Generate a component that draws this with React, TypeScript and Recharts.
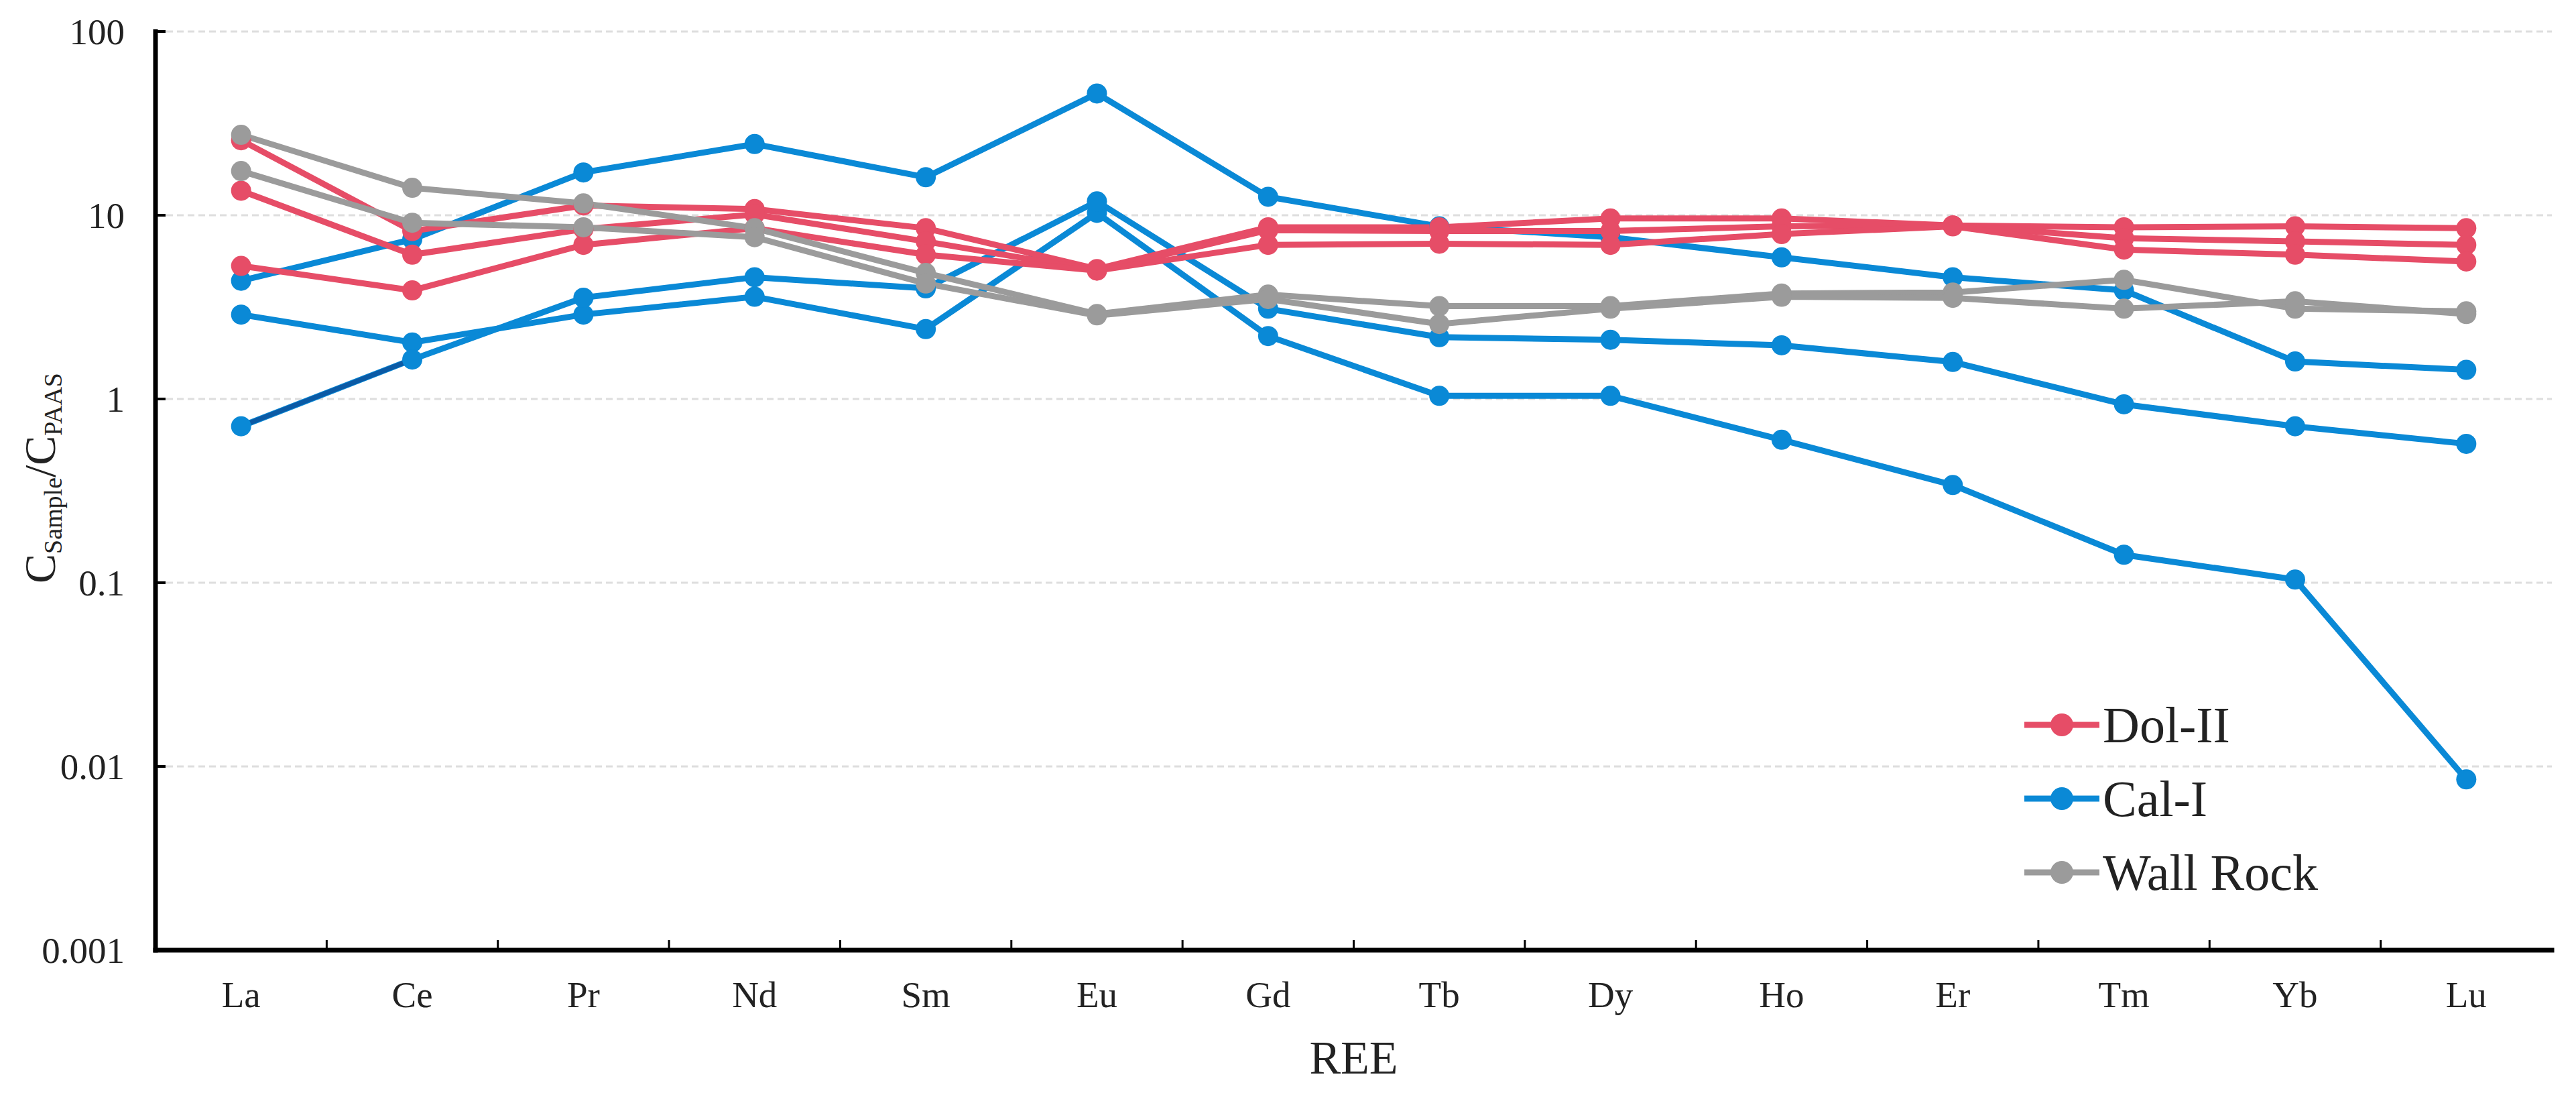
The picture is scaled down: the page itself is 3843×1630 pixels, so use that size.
import React from 'react';
import { LineChart, Line, XAxis, YAxis, CartesianGrid, Legend, Label } from 'recharts';

// REE patterns normalised to PAAS
const elements = ['La', 'Ce', 'Pr', 'Nd', 'Sm', 'Eu', 'Gd', 'Tb', 'Dy', 'Ho', 'Er', 'Tm', 'Yb', 'Lu'];

const dol1 = [25.6, 8.2, 11.3, 10.8, 8.5, 5.1, 8.6, 8.6, 9.6, 9.6, 8.8, 8.6, 8.7, 8.5];
const dol2 = [13.6, 6.1, 8.4, 10.1, 7.2, 5.0, 8.3, 8.2, 8.2, 8.7, 8.8, 7.5, 7.2, 6.9];
const dol3 = [5.3, 3.9, 6.9, 8.5, 6.1, 5.0, 6.9, 7.0, 6.9, 7.9, 8.7, 6.5, 6.1, 5.6];

const cal1 = [4.4, 7.4, 17.1, 24.4, 16.1, 46, 12.6, 8.7, 7.6, 5.9, 4.6, 3.9, 1.6, 1.44];
const cal2 = [2.88, 2.03, 2.88, 3.6, 2.4, 10.3, 2.2, 1.04, 1.04, 0.6, 0.34, 0.142, 0.104, 0.0085];
const cal3 = [0.71, 1.64, 3.56, 4.6, 4.0, 11.9, 3.1, 2.17, 2.1, 1.96, 1.59, 0.935, 0.71, 0.57];

const wall1 = [27.4, 14.1, 11.6, 8.5, 4.85, 2.9, 3.7, 3.2, 3.2, 3.75, 3.8, 4.45, 3.1, 3.0];
const wall2 = [17.4, 9.1, 8.6, 7.6, 4.25, 2.85, 3.5, 2.56, 3.1, 3.6, 3.55, 3.1, 3.4, 2.9];

const yTicks = [0.001, 0.01, 0.1, 1, 10, 100];

const RED = '#e64d67';
const BLUE = '#0a89d6';
const DARK_BLUE = '#0b5aa5';
const GREY = '#9b9b9b';
const FONT = "'Liberation Serif', 'Times New Roman', serif";

const legendItems = [
  { name: 'Dol-II', color: RED },
  { name: 'Cal-I', color: BLUE },
  { name: 'Wall Rock', color: GREY },
];

const data = elements.map((el, i) => ({
  x: i + 0.5,
  el,
  dol1: dol1[i],
  dol2: dol2[i],
  dol3: dol3[i],
  cal1: cal1[i],
  cal2: cal2[i],
  cal3: cal3[i],
  calSeg: i < 2 ? cal3[i] : null,
  wall1: wall1[i],
  wall2: wall2[i],
}));

// ticks at band edges (marks) and band centres (labels)
const xTicks = elements.flatMap((_, i) => [i, i + 0.5]).concat(elements.length);

const XTick = ({ x, y, payload }: any) => {
  const v = payload.value;
  if (Number.isInteger(v)) {
    if (v === 0 || v === elements.length) return null;
    return <line x1={x} y1={y} x2={x} y2={y - 15} stroke="#000" strokeWidth={3} />;
  }
  return (
    <text x={x} y={y + 85} textAnchor="middle" fontSize={55} fontFamily={FONT} fill="#222">
      {elements[Math.floor(v)]}
    </text>
  );
};

const YTick = ({ x, y, payload }: any) => (
  <g>
    <line x1={x} y1={y} x2={x + 15} y2={y} stroke="#000" strokeWidth={4} />
    <text x={x - 46} y={y} dy="0.35em" textAnchor="end" fontSize={55} fontFamily={FONT} fill="#222">
      {String(payload.value)}
    </text>
  </g>
);

const YLabel = () => (
  <text
    x={82}
    y={713}
    transform="rotate(-90, 82, 713)"
    textAnchor="middle"
    fontFamily={FONT}
    fill="#222"
    fontSize={66}
  >
    <tspan>C</tspan>
    <tspan fontSize={38} dy={10}>Sample</tspan>
    <tspan dy={-10}>/C</tspan>
    <tspan fontSize={38} dy={10}>PAAS</tspan>
  </text>
);

const XLabel = (props: any) => {
  const vb = props.viewBox || { x: 232, y: 1417, width: 3575 };
  return (
    <text x={vb.x + vb.width / 2} y={vb.y + 184} textAnchor="middle" fontSize={70} fontFamily={FONT} fill="#222">
      REE
    </text>
  );
};

const LegendBox = () => (
  <div style={{ fontFamily: FONT }}>
    {legendItems.map((item) => (
      <div key={item.name} style={{ display: 'flex', alignItems: 'center', height: 110 }}>
        <svg width={112} height={40} style={{ marginRight: 5 }}>
          <line x1={0} y1={20} x2={112} y2={20} stroke={item.color} strokeWidth={9} />
          <circle cx={56} cy={20} r={17} fill={item.color} />
        </svg>
        <span style={{ fontSize: 76, color: '#222', lineHeight: 1 }}>{item.name}</span>
      </div>
    ))}
  </div>
);

const axisLine = { stroke: '#000', strokeWidth: 7, strokeLinecap: 'square' as const };

const series = (key: string, color: string) => (
  <Line
    key={key}
    dataKey={key}
    stroke={color}
    strokeWidth={9}
    dot={{ r: 15, fill: color, stroke: color, strokeWidth: 0 }}
    activeDot={false}
    legendType="none"
    isAnimationActive={false}
  />
);

export default function App() {
  return (
    <div style={{ width: 3843, height: 1630, background: '#fff' }}>
      <style>{'body{margin:0;}'}</style>
      <LineChart width={3843} height={1630} data={data} margin={{ top: 47, right: 36, left: 0, bottom: 0 }}>
        <CartesianGrid vertical={false} stroke="#dedede" strokeDasharray="10 6" strokeWidth={3} />
        <XAxis
          dataKey="x"
          type="number"
          domain={[0, elements.length]}
          ticks={xTicks}
          interval={0}
          tickSize={0}
          tickMargin={0}
          tickLine={false}
          tick={<XTick />}
          axisLine={axisLine}
          height={213}
          label={<Label content={XLabel} />}
        />
        <XAxis
          xAxisId="top"
          orientation="top"
          type="number"
          domain={[0, elements.length]}
          height={0}
          tick={false}
          tickLine={false}
          axisLine={axisLine}
        />
        <YAxis
          type="number"
          scale="log"
          domain={[0.001, 100]}
          ticks={yTicks}
          interval={0}
          allowDataOverflow
          width={232}
          tickSize={0}
          tickMargin={0}
          tickLine={false}
          tick={<YTick />}
          axisLine={axisLine}
          label={<Label content={YLabel} />}
        />
        <YAxis
          yAxisId="right"
          orientation="right"
          type="number"
          scale="log"
          domain={[0.001, 100]}
          allowDataOverflow
          width={0}
          tick={false}
          tickLine={false}
          axisLine={axisLine}
        />
        {series('cal1', BLUE)}
        {series('cal2', BLUE)}
        {series('cal3', BLUE)}
        <Line
          dataKey="calSeg"
          stroke={DARK_BLUE}
          strokeWidth={7}
          dot={false}
          activeDot={false}
          legendType="none"
          isAnimationActive={false}
        />
        {series('dol1', RED)}
        {series('dol2', RED)}
        {series('dol3', RED)}
        {series('wall1', GREY)}
        {series('wall2', GREY)}
        <Legend
          layout="horizontal"
          verticalAlign="middle"
          align="center"
          content={<LegendBox />}
          wrapperStyle={{ left: 3020, top: 1026, width: 560 }}
        />
      </LineChart>
    </div>
  );
}
